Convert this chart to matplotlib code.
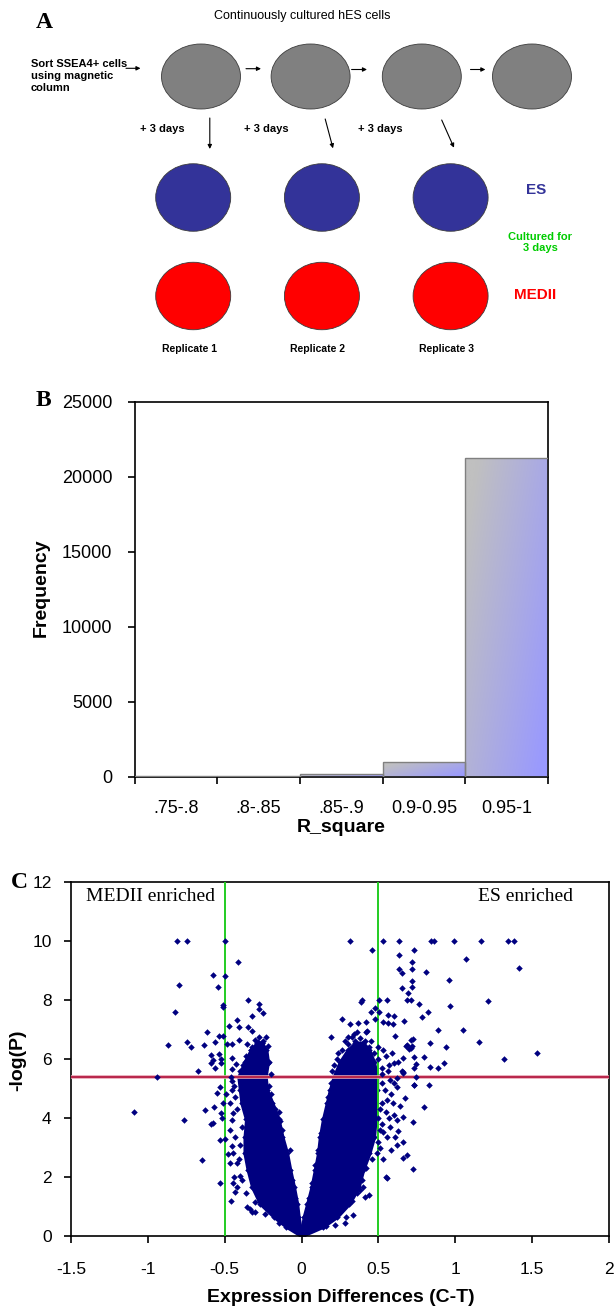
import numpy as np
import matplotlib.pyplot as plt
from matplotlib.patches import Ellipse

plt.rcParams['font.family'] = ['Liberation Sans', 'DejaVu Sans']

# ---- panel A: culture scheme ----
title_a = "Continuously cultured hES cells"
sort_text = "Sort SSEA4+ cells\nusing magnetic\ncolumn"
passage_text = "+ 3 days"
replicates = ["Replicate 1", "Replicate 2", "Replicate 3"]
conditions = ["ES", "MEDII"]
cond_colors = ["#333399", "#ff0000"]
culture_note = "Cultured for\n3 days"

# ---- panel B: R^2 histogram ----
r2_bins = [".75-.8", ".8-.85", ".85-.9", "0.9-0.95", "0.95-1"]
r2_freq = [15, 40, 190, 980, 21240]

# ---- panel C: volcano plot ----
fold_cut = 0.5
p_cut = 5.4
# dense core of the two arms: outer/inner x edge at each -log(P) level
arm_y = [0, 0.32, 0.65, 1.1, 1.65, 2.25, 2.8, 3.35, 3.95, 4.5, 4.95, 5.4, 5.9, 6.3, 6.55]
left_outer = [0, -0.10, -0.18, -0.27, -0.32, -0.35, -0.37, -0.37, -0.36, -0.39, -0.40, -0.41, -0.37, -0.33, -0.29]
left_inner = [0, -0.01, -0.02, -0.03, -0.05, -0.075, -0.095, -0.125, -0.15, -0.19, -0.225, -0.235, -0.22, -0.23, -0.26]
right_inner = [0, 0.005, 0.015, 0.038, 0.065, 0.088, 0.108, 0.12, 0.14, 0.165, 0.185, 0.21, 0.25, 0.30, 0.35]
right_outer = [0, 0.14, 0.23, 0.31, 0.37, 0.40, 0.44, 0.47, 0.48, 0.485, 0.49, 0.49, 0.47, 0.44, 0.40]

# individual genes outside the core
diff_left = [-1.09, -0.94, -0.87, -0.825, -0.808, -0.797, -0.747, -0.768, -0.747, -0.717,
             -0.672, -0.648, -0.633, -0.63, -0.615, -0.589, -0.576, -0.576, -0.592, -0.578,
             -0.588, -0.568, -0.563, -0.561, -0.552, -0.542, -0.537, -0.537, -0.533, -0.533,
             -0.530, -0.527, -0.526, -0.524, -0.518, -0.514, -0.514, -0.514, -0.513, -0.498,
             -0.496, -0.496, -0.493, -0.487, -0.481, -0.472, -0.466, -0.46, -0.459, -0.455,
             -0.452, -0.45, -0.45, -0.44, -0.426, -0.423, -0.422, -0.415, -0.409, -0.407,
             -0.348, -0.346, -0.32, -0.32, -0.28, -0.28, -0.28, -0.283, -0.249, -0.233,
             -0.355, -0.324, -0.22, -0.455, -0.466, -0.444, -0.466, -0.455, -0.423, -0.40,
             -0.444, -0.455, -0.433, -0.444, -0.357, -0.325, -0.303, -0.335, -0.43, -0.129,
             -0.075, -0.086, -0.15, -0.30, -0.25, -0.27, -0.36, -0.38, -0.40, -0.24,
             -0.22, -0.25, -0.30, -0.31,
             -0.39, -0.36, -0.30, -0.24, -0.15, -0.41, -0.40, -0.39, -0.42, -0.43,
             -0.44, -0.10, -0.06, -0.04, -0.14, -0.17, -0.20, -0.21, -0.20, -0.21,
             -0.28, -0.26, -0.33]
nlp_left = [4.21, 5.39, 6.49, 7.60, 10.0, 8.51, 10.0, 3.93, 6.59, 6.41,
            5.60, 2.58, 6.46, 4.28, 6.90, 6.12, 8.85, 5.97, 5.85, 3.84,
            3.78, 4.36, 5.69, 6.57, 4.86, 8.45, 6.79, 6.18, 3.26, 1.81,
            5.04, 4.18, 6.01, 5.85, 4.01, 7.83, 7.77, 4.50, 6.79, 10.0,
            8.82, 3.30, 4.80, 6.52, 2.77, 7.13, 2.49, 5.40, 1.20, 6.02,
            6.52, 5.65, 5.25, 1.99, 5.82, 1.67, 7.32, 9.28, 6.64, 7.07,
            8.01, 7.10, 7.47, 6.95, 7.85, 7.69, 6.76, 6.59, 7.55, 6.76,
            6.52, 6.41, 5.85, 4.95, 4.50, 4.16, 3.60, 3.04, 2.49, 2.03,
            1.79, 3.93, 3.37, 2.80, 0.99, 0.82, 0.82, 0.93, 1.50, 3.59,
            2.92, 2.24, 4.20, 6.20, 6.30, 6.05, 6.10, 5.80, 5.60, 6.10,
            6.45, 6.60, 6.65, 5.95,
            1.90, 1.45, 1.15, 0.75, 0.45, 2.60, 3.10, 3.70, 4.30, 4.70,
            5.10, 2.60, 1.90, 1.30, 3.90, 4.30, 4.80, 5.10, 5.50, 5.90,
            6.40, 6.55, 6.30]
diff_right = [0.315, 0.46, 0.532, 0.634, 0.734, 0.632, 0.719, 0.632, 0.651, 0.719,
              0.721, 0.652, 0.69, 0.717, 0.684, 0.71, 0.762, 0.393, 0.384, 0.506,
              0.556, 0.48, 0.45, 0.506, 0.561, 0.604, 0.263, 0.315, 0.369, 0.418,
              0.48, 0.53, 0.56, 0.592, 0.669, 0.19, 0.303, 0.338, 0.427, 0.61,
              0.714, 0.719, 0.68, 0.702, 0.73, 0.658, 0.732, 0.656, 0.619, 0.60,
              0.729, 0.842, 0.862, 0.992, 1.17, 1.341, 1.38, 1.07, 1.417, 0.812,
              0.961, 1.213, 0.966, 0.823, 0.782, 0.89, 1.05, 0.723, 1.157, 0.834,
              0.684, 0.712, 0.942, 0.797, 1.317, 1.529, 0.743, 0.929, 0.836, 0.89,
              0.663, 0.743, 0.73, 0.831, 0.799, 0.728, 0.689, 0.728, 0.556, 0.438,
              0.335, 0.22, 0.174, 0.164, 0.131, 0.102, 0.29, 0.28, 0.38, 0.402,
              0.41, 0.548, 0.49, 0.662, 0.61, 0.66, 0.63, 0.521, 0.553, 0.596,
              0.64, 0.672, 0.662, 0.618, 0.575, 0.531, 0.553, 0.521, 0.575, 0.618,
              0.662, 0.54, 0.23, 0.26, 0.30, 0.35, 0.40, 0.45, 0.47, 0.50,
              0.52, 0.55, 0.57, 0.50, 0.38, 0.42, 0.20, 0.51, 0.52, 0.55,
              0.58, 0.60, 0.52, 0.51, 0.57, 0.60, 0.53, 0.58, 0.62, 0.56,
              0.59, 0.63, 0.53,
              0.16, 0.25, 0.33, 0.36, 0.39, 0.42, 0.46, 0.50, 0.51, 0.50,
              0.03, 0.05, 0.07, 0.09, 0.11, 0.125, 0.15, 0.17, 0.19, 0.21,
              0.24, 0.28, 0.33, 0.41, 0.44, 0.36]
nlp_right = [10.0, 9.71, 10.0, 10.0, 9.70, 9.51, 9.28, 9.05, 8.92, 9.05,
             8.65, 8.40, 8.25, 8.45, 7.99, 7.99, 7.86, 8.00, 7.92, 7.99,
             8.00, 7.74, 7.60, 7.60, 7.49, 7.47, 7.34, 7.20, 7.21, 7.27,
             7.35, 7.26, 7.23, 7.18, 7.30, 6.76, 6.76, 6.84, 6.96, 6.78,
             6.64, 6.43, 6.43, 6.34, 6.08, 6.02, 5.68, 5.61, 5.37, 5.85,
             5.12, 10.0, 10.0, 10.0, 10.0, 10.0, 10.0, 9.39, 9.07, 8.94,
             8.68, 7.97, 7.81, 7.58, 7.44, 6.98, 6.98, 6.67, 6.59, 6.53,
             6.46, 6.38, 6.41, 6.07, 5.99, 6.20, 5.83, 5.85, 5.74, 5.69,
             5.57, 5.40, 5.13, 5.12, 4.38, 3.87, 2.74, 2.27, 1.98, 1.39,
             0.71, 0.37, 4.50, 4.10, 3.25, 2.12, 0.65, 0.43, 1.56, 1.67,
             1.33, 2.01, 2.80, 2.63, 3.37, 3.20, 3.55, 4.50, 4.61, 4.50,
             4.39, 4.67, 4.04, 3.93, 3.71, 3.54, 3.37, 5.17, 5.29, 5.06,
             5.51, 4.95, 6.00, 6.30, 6.50, 6.60, 6.45, 6.60, 6.20, 6.00,
             5.70, 6.10, 5.80, 6.40, 6.70, 6.90, 5.60, 3.00, 3.80, 4.20,
             4.80, 5.20, 5.50, 4.30, 4.00, 4.10, 2.60, 2.90, 3.10, 5.60,
             6.20, 5.90, 6.30,
             0.35, 0.80, 1.20, 1.45, 1.90, 2.30, 2.60, 3.20, 3.60, 4.00,
             0.70, 1.30, 1.80, 2.40, 2.90, 3.50, 4.00, 4.70, 5.20, 5.80,
             6.20, 6.60, 6.75, 6.60, 6.40, 6.90]

W, H = 616, 1309
fig = plt.figure(figsize=(W / 100, H / 100), dpi=100)

# full-figure canvas in pixel units for the scheme and panel letters
ax0 = fig.add_axes([0, 0, 1, 1])
ax0.set_xlim(0, W)
ax0.set_ylim(H, 0)
ax0.axis('off')

letter_kw = dict(family='Liberation Serif', fontweight='bold', fontsize=17, ha='center', va='center')
ax0.text(44, 22, "A", **letter_kw)
ax0.text(43, 401, "B", **letter_kw)
ax0.text(19, 883, "C", **letter_kw)

ax0.text(302, 16, title_a, fontsize=9, ha='center', va='center')
ax0.text(31, 76, sort_text, fontsize=8, fontweight='bold', ha='left', va='center', linespacing=1.25)

# passaged cells
for cx in [201, 310.6, 421.8, 532]:
    ax0.add_patch(Ellipse((cx, 76.5), 79, 65, facecolor='#808080', edgecolor='#3c3c3c', lw=0.6))

arrow_kw = dict(arrowstyle='-|>', color='black', lw=0.8, mutation_scale=6, shrinkA=0, shrinkB=0)
for x0, x1, yy in [(126, 140.5, 68.3), (246, 261, 68.7), (351.6, 367, 69.5), (470.5, 485.4, 69.5)]:
    ax0.annotate('', xy=(x1, yy), xytext=(x0, yy), arrowprops=arrow_kw)
for (x0, y0), (x1, y1) in [((209.8, 118), (209.8, 149)), ((325.2, 119), (333, 148.3)),
                           ((441.7, 120), (454, 147.7))]:
    ax0.annotate('', xy=(x1, y1), xytext=(x0, y0), arrowprops=arrow_kw)
for tx in [162, 266.5, 380]:
    ax0.text(tx, 128.5, passage_text, fontsize=8, fontweight='bold', ha='center', va='center')

# replicates under each condition
rep_x = [193.2, 321.9, 450.6]
for row_y, col in zip([197.5, 296], cond_colors):
    for cx in rep_x:
        ax0.add_patch(Ellipse((cx, row_y), 75, 67.5, facecolor=col, edgecolor='#3c3c3c', lw=0.6))
ax0.text(536, 190, conditions[0], color=cond_colors[0], fontsize=11, fontweight='bold', ha='center', va='center')
ax0.text(535, 295, conditions[1], color=cond_colors[1], fontsize=11, fontweight='bold', ha='center', va='center')
ax0.text(540, 242.5, culture_note, color='#00cc00', fontsize=8, fontweight='bold', ha='center', va='center',
         linespacing=1.2)
for cx, lab in zip(rep_x, replicates):
    ax0.text(cx - 4, 349, lab, fontsize=7.5, fontweight='bold', ha='center', va='center')

# ---- panel B ----
axb = fig.add_axes([134.6 / W, 1 - 776.7 / H, 413.4 / W, 375 / H])
bars = axb.bar(np.arange(len(r2_bins)), r2_freq, width=1.0, align='edge',
               facecolor='none', edgecolor='#808080', lw=1.0, zorder=3)
grey = np.array([192, 192, 192]) / 255
blue = np.array([153, 153, 255]) / 255
uu, vv = np.meshgrid(np.linspace(0, 1, 60), np.linspace(0, 1, 60))
t = np.clip(0.7 * uu + 0.45 * (1 - vv) - 0.1, 0, 1)
grad = grey[None, None, :] * (1 - t[..., None]) + blue[None, None, :] * t[..., None]
for b in bars:
    if b.get_height() <= 0:
        continue
    im = axb.imshow(grad, extent=[b.get_x(), b.get_x() + b.get_width(), 0, b.get_height()],
                    origin='lower', aspect='auto', zorder=2, interpolation='bilinear')
    im.set_clip_path(b)
axb.set_xlim(0, len(r2_bins))
axb.set_ylim(0, 25000)
axb.set_yticks(range(0, 25001, 5000))
axb.set_xticks(range(len(r2_bins) + 1))
axb.set_xticklabels([])
axb.set_xticks(np.arange(len(r2_bins)) + 0.5, minor=True)
axb.set_xticklabels(r2_bins, minor=True)
axb.tick_params(axis='x', which='minor', length=0, pad=17, labelsize=13)
axb.tick_params(axis='x', which='major', length=5, width=1.2, direction='out')
axb.tick_params(axis='y', length=5, width=1.2, direction='out', pad=11, labelsize=13)
for s in axb.spines.values():
    s.set_linewidth(1.2)
ax0.text(41, 588, "Frequency", rotation=90, fontsize=14, fontweight='bold', ha='center', va='center')
ax0.text(341, 827, "R_square", fontsize=14, fontweight='bold', ha='center', va='center')

# ---- panel C ----
axc = fig.add_axes([71 / W, 1 - 1236 / H, 538 / W, 354 / H])
navy = '#000080'
axc.fill_betweenx(arm_y, left_outer, left_inner, color=navy, lw=2.5, zorder=2)
axc.fill_betweenx(arm_y, right_inner, right_outer, color=navy, lw=2.5, zorder=2)
axc.scatter(left_outer + left_inner + right_inner + right_outer, arm_y * 4,
            marker='D', s=11, color=navy, lw=0, zorder=2)
axc.scatter(diff_left + diff_right, nlp_left + nlp_right, marker='D', s=11, color=navy, lw=0, zorder=4)
axc.axvline(-fold_cut, color='#22cc22', lw=1.4, zorder=3)
axc.axvline(fold_cut, color='#22cc22', lw=1.4, zorder=3)
axc.axhline(p_cut, color='#e8a0b0', lw=2.6, zorder=3)
axc.axhline(p_cut, color='#b0103a', lw=1.2, zorder=3)
axc.set_xlim(-1.5, 2)
axc.set_ylim(0, 12)
axc.set_xticks(np.arange(-1.5, 2.01, 0.5))
axc.set_xticklabels(['-1.5', '-1', '-0.5', '0', '0.5', '1', '1.5', '2'])
axc.set_yticks(range(0, 13, 2))
axc.tick_params(axis='x', length=5, width=1.2, direction='out', pad=14, labelsize=12.5)
axc.tick_params(axis='y', length=5, width=1.2, direction='out', pad=9, labelsize=12.5)
for s in axc.spines.values():
    s.set_linewidth(1.2)
axc.text(0.028, 0.958, "MEDII enriched", transform=axc.transAxes, family='Liberation Serif',
         fontsize=14, ha='left', va='center')
axc.text(0.933, 0.958, "ES enriched", transform=axc.transAxes, family='Liberation Serif',
         fontsize=14, ha='right', va='center')
ax0.text(18, 1060, "-log(P)", rotation=90, fontsize=14, fontweight='bold', ha='center', va='center')
ax0.text(341, 1298, "Expression Differences (C-T)", fontsize=14, fontweight='bold', ha='center', va='center')

fig.savefig('out.png', dpi=100)
